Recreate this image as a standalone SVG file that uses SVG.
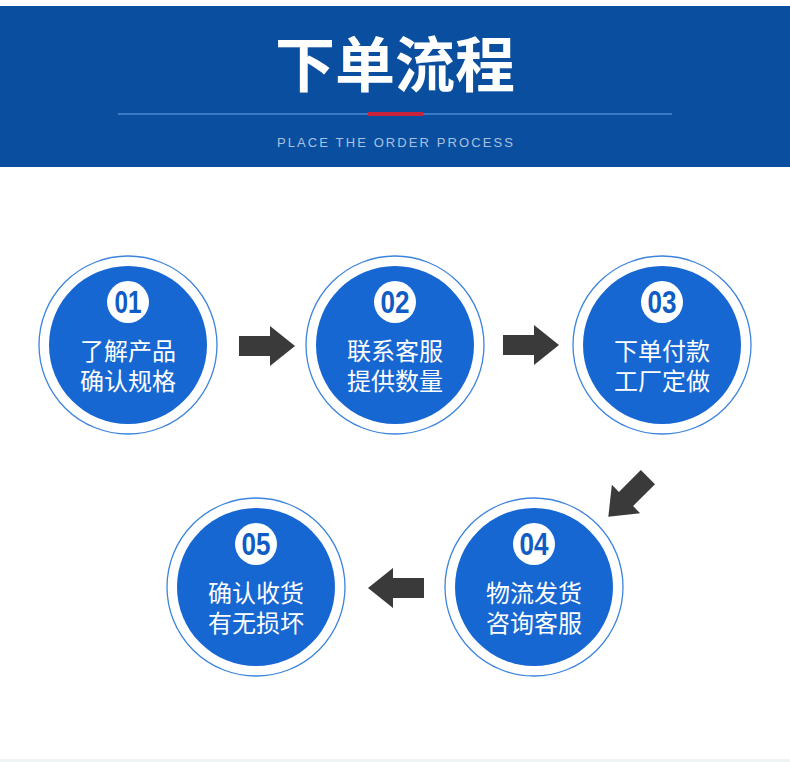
<svg xmlns="http://www.w3.org/2000/svg" xmlns:xlink="http://www.w3.org/1999/xlink" width="790" height="762" viewBox="0 0 790 762">
<style>
.ring{fill:#ffffff;stroke:#3c84dc;stroke-width:1.3}
.disc{fill:#1767d3}
.badge{fill:#ffffff}
.num{font-family:"Liberation Sans",Arial,sans-serif;font-weight:bold;font-size:31px;fill:#0f5cc4;text-anchor:middle}
.lbl{font-family:"Liberation Sans","Noto Sans CJK SC",sans-serif;font-size:24px;fill:#ffffff;text-anchor:middle}
.arrow{fill:#3a3a3a}
</style>
<defs>
<path id="arr" d="M-31,-10 L0,-10 L0,-20 L25,0 L0,20 L0,10 L-31,10 Z"/>
</defs>
<rect x="0" y="0" width="790" height="762" fill="#ffffff"/>
<g id="header">
<rect x="0" y="6" width="790" height="161" fill="#0a4f9f"/>
<text x="395" y="87" font-family="'Liberation Sans','Noto Sans CJK SC',sans-serif" font-weight="bold" font-size="60" fill="#ffffff" text-anchor="middle">下单流程</text>
<line x1="118" y1="114" x2="672" y2="114" stroke="#6aa2e8" stroke-width="1"/>
<rect x="368" y="112" width="55" height="4" fill="#c8233a"/>
<text x="395" y="147" font-family="'Liberation Sans',Arial,sans-serif" font-size="13" fill="#a9c0e0" text-anchor="middle" textLength="236" lengthAdjust="spacing">PLACE THE ORDER PROCESS</text>
</g>
<g id="node1">
<circle class="ring" cx="128" cy="345" r="89"/>
<circle class="disc" cx="128" cy="345" r="79"/>
<circle class="badge" cx="128" cy="302" r="21"/>
<text class="num" x="128" y="313" textLength="27" lengthAdjust="spacingAndGlyphs">01</text>
<text class="lbl" x="128" y="360">了解产品</text>
<text class="lbl" x="128" y="390">确认规格</text>
</g>
<g id="node2">
<circle class="ring" cx="395" cy="345" r="89"/>
<circle class="disc" cx="395" cy="345" r="79"/>
<circle class="badge" cx="395" cy="302" r="21"/>
<text class="num" x="395" y="313" textLength="29" lengthAdjust="spacingAndGlyphs">02</text>
<text class="lbl" x="395" y="360">联系客服</text>
<text class="lbl" x="395" y="390">提供数量</text>
</g>
<g id="node3">
<circle class="ring" cx="662" cy="345" r="89"/>
<circle class="disc" cx="662" cy="345" r="79"/>
<circle class="badge" cx="662" cy="302" r="21"/>
<text class="num" x="662" y="313" textLength="29" lengthAdjust="spacingAndGlyphs">03</text>
<text class="lbl" x="662" y="360">下单付款</text>
<text class="lbl" x="662" y="390">工厂定做</text>
</g>
<g id="node4">
<circle class="ring" cx="534" cy="587" r="89"/>
<circle class="disc" cx="534" cy="587" r="79"/>
<circle class="badge" cx="534" cy="544" r="21"/>
<text class="num" x="534" y="555" textLength="29" lengthAdjust="spacingAndGlyphs">04</text>
<text class="lbl" x="534" y="602">物流发货</text>
<text class="lbl" x="534" y="632">咨询客服</text>
</g>
<g id="node5">
<circle class="ring" cx="256" cy="587" r="89"/>
<circle class="disc" cx="256" cy="587" r="79"/>
<circle class="badge" cx="256" cy="544" r="21"/>
<text class="num" x="256" y="555" textLength="29" lengthAdjust="spacingAndGlyphs">05</text>
<text class="lbl" x="256" y="602">确认收货</text>
<text class="lbl" x="256" y="632">有无损坏</text>
</g>
<g id="connectors" class="arrow">
<use xlink:href="#arr" transform="translate(270,346)"/>
<use xlink:href="#arr" transform="translate(534,345)"/>
<use xlink:href="#arr" transform="translate(626,499) rotate(135)"/>
<use xlink:href="#arr" transform="translate(393,588) rotate(180)"/>
</g>
<rect x="0" y="759" width="790" height="3" fill="#eef3f3"/>
</svg>
